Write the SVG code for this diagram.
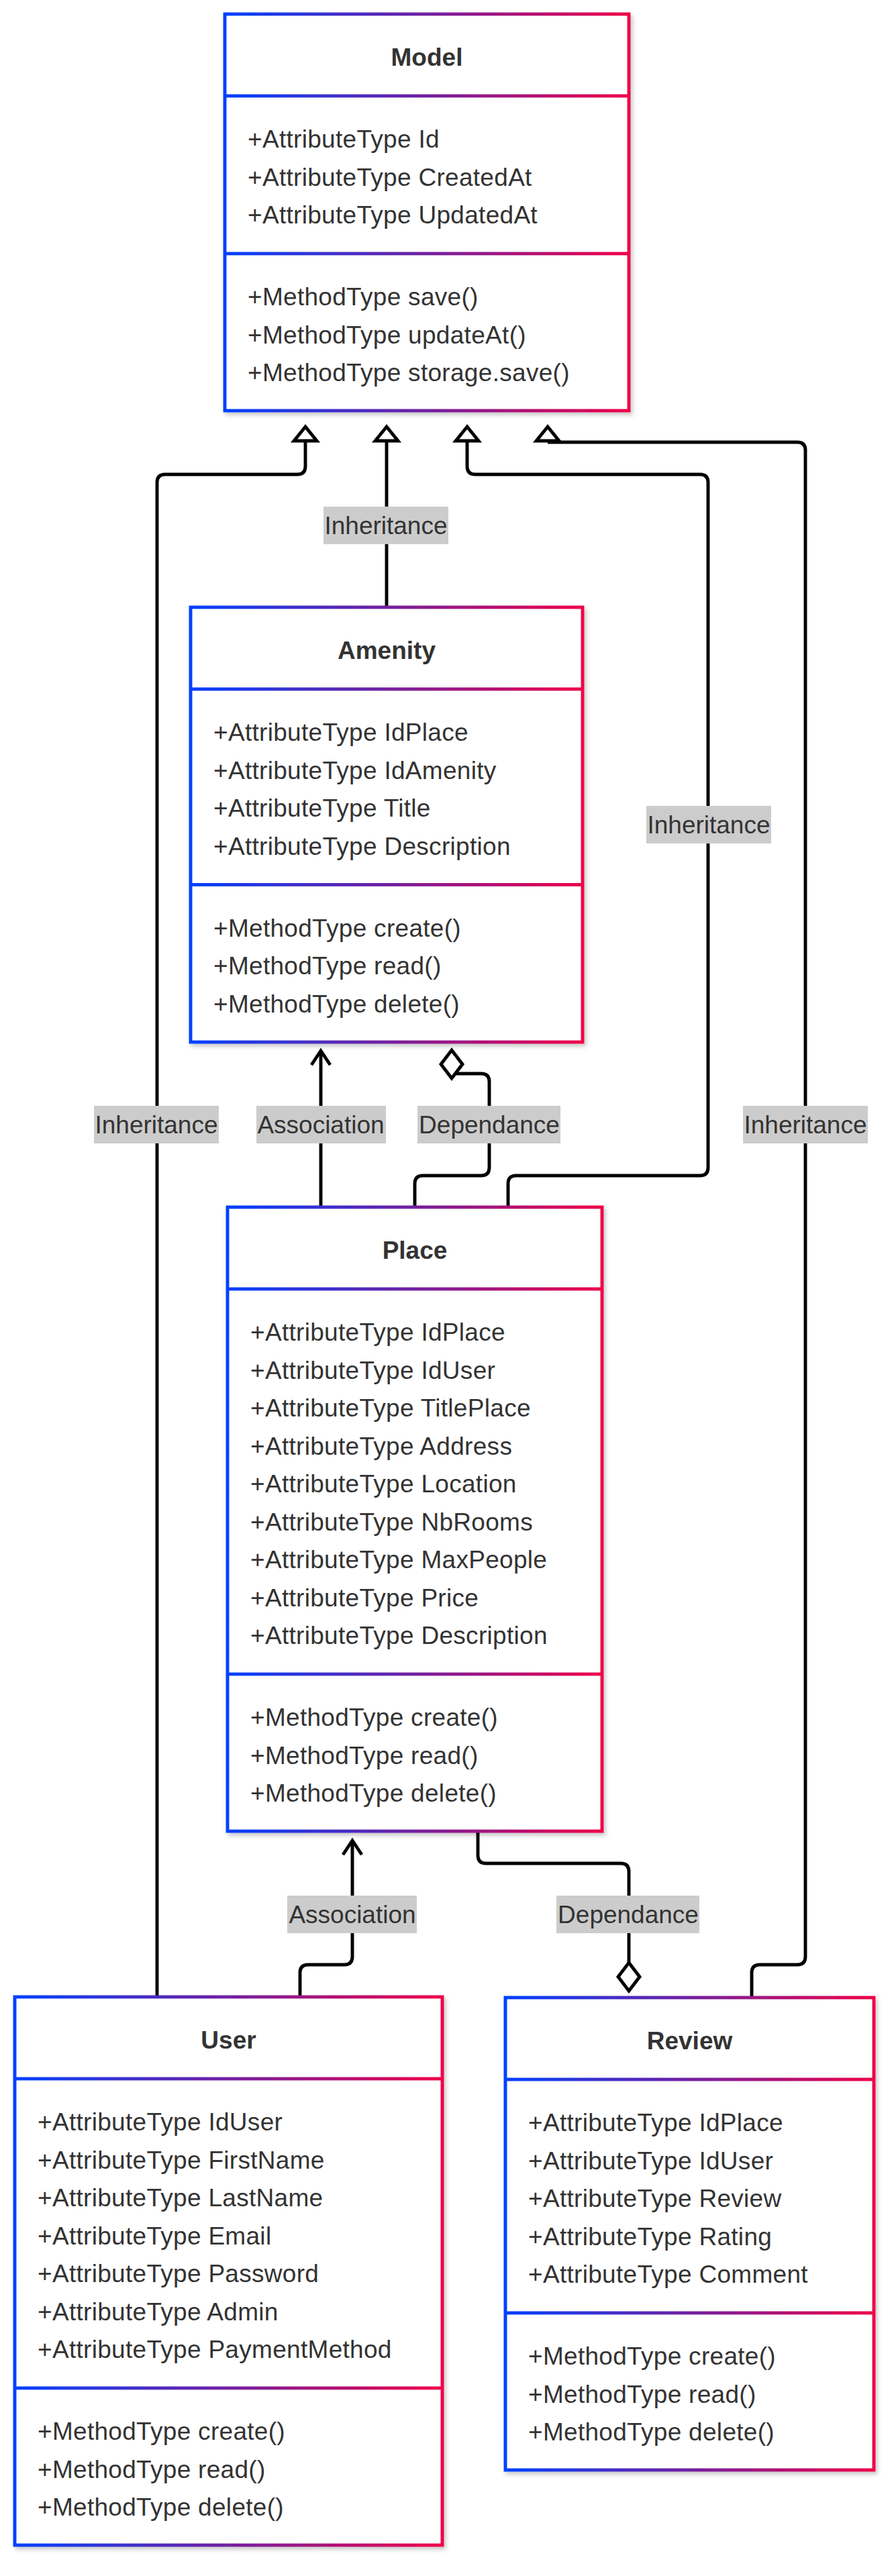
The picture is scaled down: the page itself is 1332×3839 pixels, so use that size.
<svg xmlns="http://www.w3.org/2000/svg" xmlns:xlink="http://www.w3.org/1999/xlink" width="1332" height="3839" viewBox="0 0 1332 3839">
<style>
.box{fill:#ffffff;stroke:url(#grad);stroke-width:4.9;filter:url(#shadow)}
.div{fill:url(#grad)}
.title{font-family:"Liberation Sans",Arial,sans-serif;font-size:37px;font-weight:bold;fill:#333333;text-anchor:middle}
.item{font-family:"Liberation Sans",Arial,sans-serif;font-size:37px;fill:#333333;letter-spacing:0.3px}
.edge{fill:none;stroke:#000000;stroke-width:4.9}
.lblbg{fill:#cccccc}
.lbl{font-family:"Liberation Sans",Arial,sans-serif;font-size:37px;fill:#333333;text-anchor:middle}
.head{fill:#ffffff;stroke:#000000;stroke-width:4.9;stroke-linejoin:miter}
.open{fill:none;stroke:#000000;stroke-width:4.9;stroke-linejoin:miter}
</style>
<defs>
<linearGradient id="grad" x1="0" y1="0" x2="1" y2="0">
<stop offset="0" stop-color="#0040ff"/>
<stop offset="0.5" stop-color="#7220a0"/>
<stop offset="1" stop-color="#f00048"/>
</linearGradient>
<filter id="shadow" x="-5%" y="-5%" width="115%" height="115%">
<feDropShadow dx="3" dy="4" stdDeviation="3" flood-color="#000000" flood-opacity="0.22"/>
</filter>
<polygon id="tri" class="head" points="0,4 -17,25 17,25"/>
<polygon id="dia" class="head" points="0,-21 16,0 0,21 -16,0"/>
<path id="arr" class="open" d="M-14,21 L0,0 L14,21"/>
</defs>
<rect width="1332" height="3839" fill="#ffffff"/>

<g id="connectors">
<path class="edge" d="M234 2976 V719 Q234 707 246 707 H443 Q455 707 455 695 V658"/>
<path class="edge" d="M576 905 V658"/>
<path class="edge" d="M757 1799 V1764 Q757 1752 769 1752 H1043 Q1055 1752 1055 1740 V719 Q1055 707 1043 707 H708 Q696 707 696 695 V658"/>
<path class="edge" d="M1120 2976 V2940 Q1120 2928 1132 2928 H1188 Q1200 2928 1200 2916 V671 Q1200 659 1188 659 H816"/>
<path class="edge" d="M478 1799 V1568"/>
<path class="edge" d="M618 1799 V1764 Q618 1752 630 1752 H717 Q729 1752 729 1740 V1612 Q729 1600 717 1600 H676"/>
<path class="edge" d="M447 2976 V2940 Q447 2928 459 2928 H513 Q525 2928 525 2916 V2745"/>
<path class="edge" d="M712 2729 V2765 Q712 2777 724 2777 H925 Q937 2777 937 2789 V2925"/>
<use href="#tri" x="455" y="632"/>
<use href="#tri" x="576" y="632"/>
<use href="#tri" x="696" y="632"/>
<use href="#tri" x="816" y="632"/>
<use href="#arr" x="478" y="1566"/>
<use href="#arr" x="525" y="2743"/>
<use href="#dia" x="673" y="1586"/>
<use href="#dia" x="937" y="2946"/>
<rect class="lblbg" x="482" y="755" width="186" height="56"/>
<text class="lbl" x="575" y="796">Inheritance</text>
<rect class="lblbg" x="963" y="1201" width="186" height="56"/>
<text class="lbl" x="1056" y="1242">Inheritance</text>
<rect class="lblbg" x="140" y="1648" width="186" height="56"/>
<text class="lbl" x="233" y="1689">Inheritance</text>
<rect class="lblbg" x="382" y="1648" width="193" height="56"/>
<text class="lbl" x="478" y="1689">Association</text>
<rect class="lblbg" x="622" y="1648" width="213" height="56"/>
<text class="lbl" x="729" y="1689">Dependance</text>
<rect class="lblbg" x="1107" y="1648" width="186" height="56"/>
<text class="lbl" x="1200" y="1689">Inheritance</text>
<rect class="lblbg" x="428" y="2825" width="193" height="56"/>
<text class="lbl" x="525" y="2866">Association</text>
<rect class="lblbg" x="829" y="2825" width="213" height="56"/>
<text class="lbl" x="936" y="2866">Dependance</text>
</g>

<g id="model">
<rect class="box" x="335" y="21" width="602" height="591"/>
<rect class="div" x="335" y="140.5" width="602" height="4.9"/>
<rect class="div" x="335" y="375.5" width="602" height="4.9"/>
<text class="title" x="636" y="98">Model</text>
<text class="item" x="369" y="220">+AttributeType Id</text>
<text class="item" x="369" y="276.5">+AttributeType CreatedAt</text>
<text class="item" x="369" y="333">+AttributeType UpdatedAt</text>
<text class="item" x="369" y="455">+MethodType save()</text>
<text class="item" x="369" y="511.5">+MethodType updateAt()</text>
<text class="item" x="369" y="568">+MethodType storage.save()</text>
</g>

<g id="amenity">
<rect class="box" x="284" y="905" width="584" height="648"/>
<rect class="div" x="284" y="1024.5" width="584" height="4.9"/>
<rect class="div" x="284" y="1316" width="584" height="4.9"/>
<text class="title" x="576" y="982">Amenity</text>
<text class="item" x="318" y="1104">+AttributeType IdPlace</text>
<text class="item" x="318" y="1160.5">+AttributeType IdAmenity</text>
<text class="item" x="318" y="1217">+AttributeType Title</text>
<text class="item" x="318" y="1273.5">+AttributeType Description</text>
<text class="item" x="318" y="1395.5">+MethodType create()</text>
<text class="item" x="318" y="1452">+MethodType read()</text>
<text class="item" x="318" y="1508.5">+MethodType delete()</text>
</g>

<g id="place">
<rect class="box" x="339" y="1799" width="558" height="930"/>
<rect class="div" x="339" y="1918.5" width="558" height="4.9"/>
<rect class="div" x="339" y="2492.5" width="558" height="4.9"/>
<text class="title" x="618" y="1876">Place</text>
<text class="item" x="373" y="1998">+AttributeType IdPlace</text>
<text class="item" x="373" y="2054.5">+AttributeType IdUser</text>
<text class="item" x="373" y="2111">+AttributeType TitlePlace</text>
<text class="item" x="373" y="2167.5">+AttributeType Address</text>
<text class="item" x="373" y="2224">+AttributeType Location</text>
<text class="item" x="373" y="2280.5">+AttributeType NbRooms</text>
<text class="item" x="373" y="2337">+AttributeType MaxPeople</text>
<text class="item" x="373" y="2393.5">+AttributeType Price</text>
<text class="item" x="373" y="2450">+AttributeType Description</text>
<text class="item" x="373" y="2572">+MethodType create()</text>
<text class="item" x="373" y="2628.5">+MethodType read()</text>
<text class="item" x="373" y="2685">+MethodType delete()</text>
</g>

<g id="user">
<rect class="box" x="22" y="2976" width="637" height="817"/>
<rect class="div" x="22" y="3095.5" width="637" height="4.9"/>
<rect class="div" x="22" y="3556.5" width="637" height="4.9"/>
<text class="title" x="340.5" y="3053">User</text>
<text class="item" x="56" y="3175">+AttributeType IdUser</text>
<text class="item" x="56" y="3231.5">+AttributeType FirstName</text>
<text class="item" x="56" y="3288">+AttributeType LastName</text>
<text class="item" x="56" y="3344.5">+AttributeType Email</text>
<text class="item" x="56" y="3401">+AttributeType Password</text>
<text class="item" x="56" y="3457.5">+AttributeType Admin</text>
<text class="item" x="56" y="3514">+AttributeType PaymentMethod</text>
<text class="item" x="56" y="3636">+MethodType create()</text>
<text class="item" x="56" y="3692.5">+MethodType read()</text>
<text class="item" x="56" y="3749">+MethodType delete()</text>
</g>

<g id="review">
<rect class="box" x="753" y="2977" width="549" height="704"/>
<rect class="div" x="753" y="3096.5" width="549" height="4.9"/>
<rect class="div" x="753" y="3444.5" width="549" height="4.9"/>
<text class="title" x="1027.5" y="3054">Review</text>
<text class="item" x="787" y="3176">+AttributeType IdPlace</text>
<text class="item" x="787" y="3232.5">+AttributeType IdUser</text>
<text class="item" x="787" y="3289">+AttributeType Review</text>
<text class="item" x="787" y="3345.5">+AttributeType Rating</text>
<text class="item" x="787" y="3402">+AttributeType Comment</text>
<text class="item" x="787" y="3524">+MethodType create()</text>
<text class="item" x="787" y="3580.5">+MethodType read()</text>
<text class="item" x="787" y="3637">+MethodType delete()</text>
</g>
</svg>
